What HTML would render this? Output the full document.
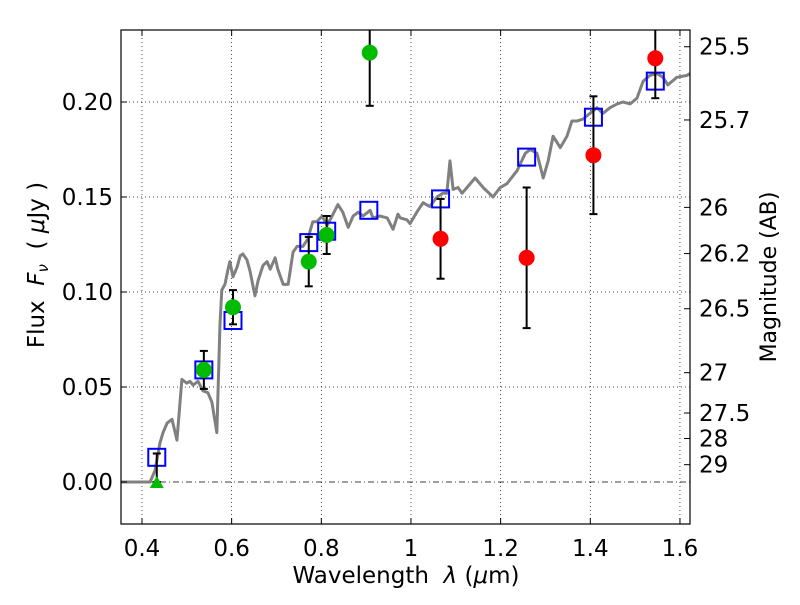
<!DOCTYPE html>
<html><head><meta charset="utf-8"><style>
body{margin:0;background:#fff;}
svg text{font-family:"DejaVu Sans","Liberation Sans",sans-serif;}
</style></head><body>
<svg id="chart" width="800" height="600" xmlns="http://www.w3.org/2000/svg">
<rect width="800" height="600" fill="#fff"/>
<g id="grid"></g>
<g id="marks"></g>
<rect x="121" y="30" width="569" height="494" fill="none" stroke="#000" stroke-width="1.2"/>
<g id="axes"></g>
<text x="406" y="583" font-size="23" text-anchor="middle">Wavelength&#160;&#160;<tspan font-style="italic">λ</tspan>&#160;(<tspan font-style="italic">μ</tspan>m)</text>
<text transform="translate(44,265) rotate(-90)" font-size="23" text-anchor="middle">Flux&#160;&#160;<tspan font-style="italic">F</tspan><tspan font-size="15" font-style="italic" dy="4">ν</tspan><tspan dy="-4">&#160;&#160;(&#160;</tspan><tspan font-style="italic">μ</tspan>Jy&#160;)</text>
<text transform="translate(776,277) rotate(-90)" font-size="22" text-anchor="middle">Magnitude (AB)</text>
</svg>
<script>
const specX=[0.353,0.418,0.429,0.440,0.447,0.456,0.467,0.478,0.489,0.500,0.507,0.514,0.525,0.536,0.547,0.556,0.567,0.574,0.578,0.585,0.592,0.596,0.603,0.612,0.619,0.625,0.634,0.641,0.652,0.659,0.670,0.679,0.686,0.697,0.703,0.715,0.726,0.737,0.746,0.759,0.770,0.781,0.790,0.802,0.813,0.824,0.837,0.848,0.860,0.871,0.882,0.893,0.909,0.915,0.931,0.947,0.960,0.971,0.976,0.991,0.998,1.013,1.027,1.042,1.058,1.071,1.080,1.087,1.094,1.105,1.114,1.125,1.143,1.161,1.183,1.199,1.214,1.237,1.255,1.266,1.281,1.295,1.306,1.317,1.333,1.348,1.359,1.370,1.384,1.399,1.415,1.428,1.444,1.460,1.473,1.489,1.504,1.518,1.533,1.549,1.562,1.573,1.593,1.616,1.622];
const specY=[0,0,0.006,0.0205,0.026,0.031,0.033,0.022,0.054,0.052,0.053,0.051,0.053,0.048,0.047,0.042,0.026,0.083,0.101,0.104,0.112,0.116,0.108,0.113,0.119,0.120,0.117,0.111,0.098,0.106,0.114,0.116,0.112,0.118,0.112,0.104,0.104,0.121,0.124,0.124,0.128,0.137,0.137,0.140,0.135,0.140,0.146,0.142,0.134,0.140,0.142,0.140,0.143,0.139,0.140,0.139,0.133,0.141,0.139,0.138,0.136,0.142,0.147,0.145,0.150,0.152,0.152,0.169,0.154,0.155,0.152,0.155,0.160,0.155,0.150,0.155,0.157,0.164,0.173,0.175,0.173,0.160,0.169,0.182,0.176,0.182,0.190,0.190,0.191,0.194,0.197,0.194,0.197,0.199,0.200,0.199,0.202,0.211,0.214,0.215,0.213,0.209,0.213,0.214,0.215];
const greenX=[0.538,0.603,0.772,0.812,0.908];
const greenY=[0.059,0.092,0.116,0.130,0.226];
const greenErr=[0.010,0.009,0.013,0.010,0.028];
const redX=[1.066,1.258,1.407,1.545];
const redY=[0.128,0.118,0.172,0.223];
const redErr=[0.021,0.037,0.031,0.021];
const sqX=[0.433,0.538,0.603,0.772,0.812,0.906,1.066,1.258,1.407,1.545];
const sqY=[0.013,0.059,0.085,0.126,0.132,0.143,0.149,0.171,0.192,0.211];
const limX=[0.433], limY=[0.0], limTop=[0.015];
const xTicks=[0.4,0.6,0.8,1.0,1.2,1.4,1.6];
const xTickLabels=["0.4","0.6","0.8","1","1.2","1.4","1.6"];
const yTicks=[0,0.05,0.10,0.15,0.20];
const yTickLabels=["0.00","0.05","0.10","0.15","0.20"];
const magTicks=[25.5,25.7,26,26.2,26.5,27,27.5,28,29];
const magTickLabels=["25.5","25.7","26","26.2","26.5","27","27.5","28","29"];

const X0=121,X1=690,Y0=30,Y1=524,xmin=0.3532,xmax=1.6224,ymin=-0.0221,ymax=0.2379;
const sx=v=>X0+(v-xmin)/(xmax-xmin)*(X1-X0);
const sy=v=>Y1-(v-ymin)/(ymax-ymin)*(Y1-Y0);
const NS="http://www.w3.org/2000/svg";
function mk(parent,tag,attrs){const e=document.createElementNS(NS,tag);for(const k in attrs)e.setAttribute(k,attrs[k]);document.getElementById(parent).appendChild(e);return e;}
xTicks.forEach((t,i)=>{
 const g=mk('grid','line',{x1:sx(t),x2:sx(t),y1:Y0,y2:Y1,stroke:'#000','stroke-width':0.7,'stroke-dasharray':'1,3'});
 
 
 const tk=mk('axes','line',{x1:sx(t),x2:sx(t),y1:Y1,y2:Y1-6,stroke:'#000'});
 
 
 const tk2=mk('axes','line',{x1:sx(t),x2:sx(t),y1:Y0,y2:Y0+6,stroke:'#000'});
 
 
 const l=mk('axes','text',{x:sx(t),y:556,'font-size':23,'text-anchor':'middle'});l.textContent=xTickLabels[i];
 
 
});
yTicks.forEach((t,i)=>{
 const g=mk('grid','line',{x1:X0,x2:X1,y1:sy(t),y2:sy(t),stroke:'#000','stroke-width':0.7,'stroke-dasharray':t===0?'6,3,1,3':'1,3'});
 
 
 const tk=mk('axes','line',{x1:X0,x2:X0+6,y1:sy(t),y2:sy(t),stroke:'#000'});
 
 
 const l=mk('axes','text',{x:113,y:sy(t)+8,'font-size':23,'text-anchor':'end'});l.textContent=yTickLabels[i];
 
 
});
magTicks.forEach((m,i)=>{
 const f=Math.pow(10,(23.9-m)/2.5);
 const tk=mk('axes','line',{x1:X1-6,x2:X1,y1:sy(f),y2:sy(f),stroke:'#000'});
 
 
 const l=mk('axes','text',{x:699,y:sy(f)+8,'font-size':23});l.textContent=magTickLabels[i];
 
 
});
const sp=mk('marks','polyline',{points:specX.map((x,i)=>sx(x)+','+sy(specY[i])).join(' '),fill:'none',stroke:'#808080','stroke-width':3,'stroke-linejoin':'round'});


sqX.forEach((x,i)=>{
 const r=mk('marks','rect',{x:sx(x)-8.5,y:sy(sqY[i])-8.5,width:17,height:17,fill:'none',stroke:'#0000ff','stroke-width':2});
 
 
});
function errbar(x,y,e,name){
 const top=Math.max(sy(y+e),Y0);
 const l=mk('marks','line',{x1:sx(x),x2:sx(x),y1:top,y2:sy(y-e),stroke:'#000','stroke-width':2});
 
 
 [y+e,y-e].forEach(v=>{if(sy(v)>=Y0){const c=mk('marks','line',{x1:sx(x)-4,x2:sx(x)+4,y1:sy(v),y2:sy(v),stroke:'#000','stroke-width':2});
 
 }});
}
limX.forEach((x,i)=>{
 errbar(x,(limY[i]+limTop[i])/2,(limTop[i]-limY[i])/2,'limit-errorbar');
 const t=mk('marks','polygon',{points:`${sx(x)-7},${sy(limY[i])+6} ${sx(x)+7},${sy(limY[i])+6} ${sx(x)},${sy(limY[i])-6}`,fill:'#00bb00'});
 
 
});
greenX.forEach((x,i)=>{
 errbar(x,greenY[i],greenErr[i],'green-errorbar');
 const c=mk('marks','circle',{cx:sx(x),cy:sy(greenY[i]),r:8,fill:'#00bb00'});
 
 
});
redX.forEach((x,i)=>{
 errbar(x,redY[i],redErr[i],'red-errorbar');
 const c=mk('marks','circle',{cx:sx(x),cy:sy(redY[i]),r:8,fill:'#ff0000'});
 
 
});
</script>
</body></html>
